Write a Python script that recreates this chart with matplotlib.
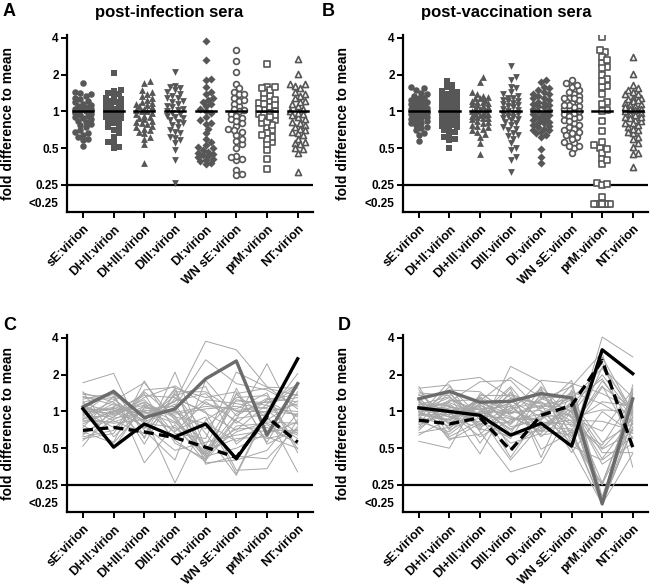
# fold difference to mean: post-infection vs post-vaccination sera (scatter + per-serum lines)

import numpy as np
import matplotlib
matplotlib.use("Agg")
import matplotlib.pyplot as plt
from matplotlib.transforms import blended_transform_factory

plt.rcParams['font.family'] = ['Liberation Sans', 'DejaVu Sans']
plt.rcParams['font.weight'] = 'bold'

LOW = 0.175  # values below 0.25 are shown on the "<0.25" row

categories = ['sE:virion', 'DI+II:virion', 'DI+III:virion', 'DIII:virion',
              'DI:virion', 'WN sE:virion', 'prM:virion', 'NT:virion']

# ---- post-infection sera (one value per serum, same serum order in every list)
inf_sE = [1.07, 1.38, 0.77, 0.94, 1.72, 0.58, 1.16, 0.86, 1.0, 1.26, 0.66, 0.79, 1.45, 0.92, 1.1, 0.52, 1.22, 0.74,
          1.02, 0.88, 1.33, 0.62, 0.96, 1.13, 0.82, 1.42, 0.68, 1.04, 0.9, 1.19, 0.6, 0.98, 0.84, 1.3, 0.64]
inf_DI_II = [0.94, 1.3, 0.56, 1.06, 2.05, 0.86, 0.98, 1.16, 0.74, 1.42, 0.9, 1.02, 0.62, 1.22, 0.84, 1.1, 0.5, 1.34,
             0.96, 0.8, 1.13, 0.7, 1.5, 0.88, 1.0, 1.19, 0.55, 1.04, 0.92, 1.38, 0.66, 1.08, 0.82, 1.26, 1.0]
inf_DI_III = [1.2, 0.72, 1.78, 0.95, 0.6, 1.1, 1.4, 0.84, 1.02, 0.38, 1.3, 0.76, 1.05, 1.72, 0.66, 0.92, 1.15, 0.54,
              1.25, 0.86, 1.0, 1.5, 0.7, 0.98, 1.35, 0.8, 1.08, 0.62, 1.18, 0.9, 1.45, 0.74, 1.0, 0.82, 1.12]
inf_DIII = [0.88, 1.55, 0.7, 1.2, 2.1, 0.95, 0.55, 1.35, 1.0, 0.78, 1.62, 0.48, 1.1, 0.85, 1.28, 0.26, 0.92, 1.45,
            0.66, 1.15, 0.8, 1.58, 0.4, 1.02, 1.3, 0.74, 0.98, 1.4, 0.58, 1.22, 0.9, 1.5, 0.68, 1.08, 0.82]
inf_DI = [0.46, 1.3, 0.9, 3.76, 0.5, 1.05, 0.41, 1.6, 0.72, 0.38, 1.15, 0.56, 2.65, 0.44, 1.0, 0.85, 0.4, 1.45,
          0.6, 0.48, 1.25, 0.37, 1.8, 0.53, 0.97, 0.43, 1.1, 0.66, 0.39, 1.4, 0.8, 0.47, 1.2, 0.42, 0.45]
inf_WN_sE = [0.96, 1.45, 0.31, 3.2, 0.72, 1.1, 0.86, 0.54, 1.3, 0.4, 1.02, 0.64, 1.69, 0.88, 0.33, 1.22, 0.76, 1.0,
             2.1, 0.6, 1.16, 0.43, 0.92, 1.38, 0.7, 0.5, 1.05, 0.3, 1.55, 0.8, 0.57, 1.25, 0.84, 1.4, 0.68]
inf_prM = [1.22, 0.56, 1.02, 1.6, 0.74, 0.96, 2.46, 0.85, 1.35, 0.48, 1.08, 0.7, 1.5, 0.94, 0.34, 1.18, 0.8, 1.0,
           1.58, 0.62, 1.05, 0.41, 1.28, 0.88, 1.15, 0.66, 1.42, 0.98, 0.54, 1.25, 0.78, 1.12, 0.6, 1.55, 0.82]
inf_NT = [0.9, 1.45, 0.66, 1.05, 0.55, 2.04, 0.78, 1.22, 0.46, 0.97, 1.62, 0.7, 1.1, 0.32, 0.86, 1.3, 0.64, 0.95,
          1.55, 0.5, 1.0, 0.75, 1.2, 0.6, 1.68, 0.82, 0.49, 1.15, 0.72, 1.38, 0.54, 0.93, 0.68, 1.35, 0.8]

# highlighted post-infection sera (panel C)
inf_hl_grey = [1.09, 1.46, 0.89, 1.05, 1.85, 2.59, 0.64, 1.69]
inf_hl_black = [1.05, 0.51, 0.79, 0.62, 0.79, 0.41, 0.93, 2.7]
inf_hl_dash = [0.70, 0.74, 0.68, 0.61, 0.51, 0.42, 0.9, 0.56]

# ---- post-vaccination sera
vac_sE = [1.0, 1.3, 0.8, 1.12, 0.92, 1.6, 0.75, 1.05, 1.2, 0.88, 0.57, 1.15, 0.98, 1.42, 0.83, 1.08, 0.7, 1.25,
          0.95, 1.55, 0.9, 1.02, 0.64, 1.18, 0.86, 1.35, 0.97, 1.1, 0.78, 1.5, 0.93, 1.04, 0.73, 1.22, 0.99, 1.28,
          0.81, 1.14, 0.67, 1.06, 0.94, 1.38]
vac_DI_II = [1.1, 0.72, 1.45, 0.9, 1.77, 0.62, 1.25, 0.98, 0.8, 1.6, 0.5, 1.15, 0.86, 1.35, 0.68, 1.05, 1.2, 0.58,
             0.94, 1.65, 0.76, 1.3, 0.88, 1.02, 0.65, 1.4, 0.83, 1.12, 0.96, 0.7, 1.5, 0.9, 1.08, 0.6, 1.22, 0.78,
             1.0, 1.32, 0.74, 1.18, 0.85, 0.92]
vac_DI_III = [0.95, 1.3, 0.7, 1.12, 1.9, 0.84, 1.02, 0.62, 1.22, 0.9, 1.4, 0.76, 1.08, 0.55, 1.18, 0.98, 1.75, 0.8,
              1.05, 0.68, 1.35, 0.92, 1.15, 0.45, 1.0, 0.86, 1.28, 0.74, 1.1, 0.96, 1.45, 0.82, 1.04, 0.65, 1.25,
              0.88, 1.2, 0.78, 1.0, 0.94, 1.32, 0.72]
vac_DIII = [1.05, 0.75, 2.34, 0.9, 1.3, 0.6, 1.15, 0.85, 1.9, 0.4, 1.0, 1.45, 0.7, 1.22, 0.95, 0.55, 1.8, 0.82,
            1.1, 0.32, 1.35, 0.88, 0.66, 1.25, 0.98, 1.55, 0.78, 1.02, 0.42, 1.18, 0.92, 1.4, 0.72, 1.08, 0.5, 1.28,
            0.86, 1.12, 0.8, 1.6, 0.96, 0.63]
vac_DI = [1.2, 0.85, 1.75, 0.7, 1.05, 1.4, 0.62, 0.95, 1.3, 0.78, 1.8, 0.49, 1.1, 0.9, 1.55, 0.66, 1.0, 1.25,
          0.74, 0.38, 1.15, 0.88, 1.6, 0.72, 1.02, 0.42, 1.35, 0.82, 0.97, 1.45, 0.68, 1.08, 0.92, 1.5, 0.76, 1.18,
          0.86, 0.64, 1.28, 0.8, 1.12, 0.7]
vac_WN_sE = [0.9, 1.4, 0.62, 1.15, 1.8, 0.75, 1.02, 0.55, 1.3, 0.85, 1.7, 0.68, 1.1, 0.95, 0.5, 1.22, 0.8, 1.6,
             0.72, 1.05, 0.46, 1.35, 0.88, 1.18, 0.6, 1.5, 0.98, 0.78, 1.25, 0.66, 1.08, 0.92, 1.45, 0.56, 1.12, 0.83,
             1.65, 0.7, 1.0, 0.52, 1.28, 0.64]
vac_prM = [1.03, LOW, 2.3, 0.5, LOW, 1.62, 0.26, 4.07, LOW, 0.83, 1.4, LOW, 0.46, 2.0, LOW, 0.56, 1.2, 3.05,
           LOW, 0.41, 1.0, LOW, 0.69, 1.85, 0.25, LOW, 2.5, 0.53, LOW, 1.58, 0.37, LOW, 1.15, 2.8, LOW, 0.49, 0.2,
           1.78, LOW, 0.4, 2.25, 0.255]
vac_NT = [1.0, 0.75, 1.3, 0.9, 0.85, 0.6, 1.15, 2.8, 1.45, 0.7, 1.05, 1.65, 0.46, 0.95, 1.22, 0.8, 1.1, 0.35,
          1.38, 0.88, 0.66, 1.02, 1.5, 0.78, 1.18, 0.45, 0.93, 1.28, 0.72, 1.08, 0.55, 1.4, 0.83, 0.98, 1.25, 0.68,
          1.12, 0.9, 1.55, 0.62, 1.04, 0.8]

# highlighted post-vaccination sera (panel D)
vac_hl_grey = [1.27, 1.46, 1.19, 1.21, 1.40, 1.29, LOW, 1.27]
vac_hl_black = [1.07, 1.0, 0.93, 0.64, 0.80, 0.52, 3.2, 2.04]
vac_hl_dash = [0.85, 0.79, 0.89, 0.48, 0.93, 1.12, 2.62, 0.51]

MARKERS = ['o', 's', '^', 'v', 'D', 'o', 's', '^']
FILLED = [True, True, True, True, True, False, False, False]
SIZES = [22, 22, 24, 24, 17, 22, 22, 24]
PT_GREY = '#575757'
YTOP, YBOT = 2 ** 2.08, 2 ** -2.735
PX_CAT, PX_OCT = 30.6, 36.75


def swarm(vals, d=5.0, step=2.6, kmax=3):
    # simple beeswarm: horizontal offsets (in category units), overlapping when it gets crowded
    y = np.log2(vals) * PX_OCT
    offs = np.zeros(len(vals))
    placed = []
    for i in np.argsort(y, kind='stable'):
        best, bestgap = 0.0, -1.0
        for k in range(2 * kmax + 1):
            c = ((k + 1) // 2) * step * (1 if k % 2 else -1)
            gap = min([np.hypot(c - px, y[i] - py) for px, py in placed] or [99.0])
            if gap >= d:
                best = c
                break
            if gap > bestgap:
                best, bestgap = c, gap
        offs[i] = best
        placed.append((best, y[i]))
    return offs / PX_CAT


def style_axes(ax):
    ax.set_yscale('log', base=2)
    ax.set_ylim(YBOT, YTOP)
    ax.set_xlim(-0.52, 7.5)
    ax.set_yticks([4, 2, 1, 0.5, 0.25])
    ax.set_yticklabels(['4', '2', '1', '0.5', '0.25'])
    ax.yaxis.set_minor_locator(matplotlib.ticker.NullLocator())
    ax.set_xticks(range(len(categories)))
    ax.set_xticklabels(categories, rotation=45, ha='right', rotation_mode='anchor', fontsize=9)
    ax.tick_params(axis='both', direction='out', length=4, width=1.4, pad=2)
    ax.tick_params(axis='x', pad=4)
    ax.tick_params(axis='y', labelsize=8.5)
    for s in ['top', 'right']:
        ax.spines[s].set_visible(False)
    for s in ['left', 'bottom']:
        ax.spines[s].set_linewidth(1.6)
    ax.axhline(0.25, color='black', lw=1.6, zorder=1)
    tr = blended_transform_factory(ax.transAxes, ax.transData)
    ax.text(-0.035, LOW, '<0.25', transform=tr, ha='right', va='center', fontsize=8.5)


def scatter_panel(ax, cols, highlights):
    for j, vals in enumerate(cols):
        vals = np.array(list(vals) + [h[j] for h in highlights])
        x = j + swarm(vals)
        if FILLED[j]:
            ax.scatter(x, vals, marker=MARKERS[j], s=SIZES[j], color=PT_GREY, lw=0, zorder=3)
        else:
            ax.scatter(x, vals, marker=MARKERS[j], s=SIZES[j] * 0.8, facecolors='white',
                       edgecolors=PT_GREY, linewidths=1.2, zorder=3)
        ax.plot([j - 0.33, j + 0.33], [1, 1], color='black', lw=1.8, zorder=4)
    style_axes(ax)


def line_panel(ax, cols, hl_grey, hl_black, hl_dash):
    xs = np.arange(len(categories))
    data = np.array(cols)
    for i in range(data.shape[1]):
        ax.plot(xs, data[:, i], color='#a6a6a6', lw=0.7, zorder=2)
    ax.plot(xs, hl_grey, color='#6b6b6b', lw=2.4, zorder=4)
    ax.plot(xs, hl_black, color='black', lw=2.4, zorder=5)
    ax.plot(xs, hl_dash, color='black', lw=2.4, ls=(0, (3, 1.6)), zorder=5)
    style_axes(ax)


def main():
    inf_cols = [inf_sE, inf_DI_II, inf_DI_III, inf_DIII, inf_DI, inf_WN_sE, inf_prM, inf_NT]
    vac_cols = [vac_sE, vac_DI_II, vac_DI_III, vac_DIII, vac_DI, vac_WN_sE, vac_prM, vac_NT]
    inf_hl = [inf_hl_grey, inf_hl_black, inf_hl_dash]
    vac_hl = [vac_hl_grey, vac_hl_black, vac_hl_dash]

    fig = plt.figure(figsize=(6.5, 5.86), dpi=100)
    h = 177 / 586
    axA = fig.add_axes([67 / 650, 1 - 212 / 586, 246 / 650, h])
    axB = fig.add_axes([403 / 650, 1 - 212 / 586, 245 / 650, h])
    axC = fig.add_axes([67 / 650, 1 - 512 / 586, 246 / 650, h])
    axD = fig.add_axes([403 / 650, 1 - 512 / 586, 245 / 650, h])

    scatter_panel(axA, inf_cols, inf_hl)
    scatter_panel(axB, vac_cols, vac_hl)
    line_panel(axC, inf_cols, *inf_hl)
    line_panel(axD, vac_cols, *vac_hl)

    fig.text(169 / 650, 1 - 12 / 586, 'post-infection sera', ha='center', va='center', fontsize=12)
    fig.text(506 / 650, 1 - 12 / 586, 'post-vaccination sera', ha='center', va='center', fontsize=12)
    for letter, x, y in [('A', 3, 11), ('B', 322, 11), ('C', 3, 325), ('D', 338, 325)]:
        fig.text(x / 650, 1 - y / 586, letter, ha='left', va='center', fontsize=13)
    for x in [8, 343]:
        for yc in [123.5, 423.5]:
            fig.text(x / 650, 1 - yc / 586, 'fold difference to mean', rotation=90,
                     ha='center', va='center', fontsize=10)

    fig.savefig('out.png', dpi=100)


if __name__ == "__main__":
    main()
